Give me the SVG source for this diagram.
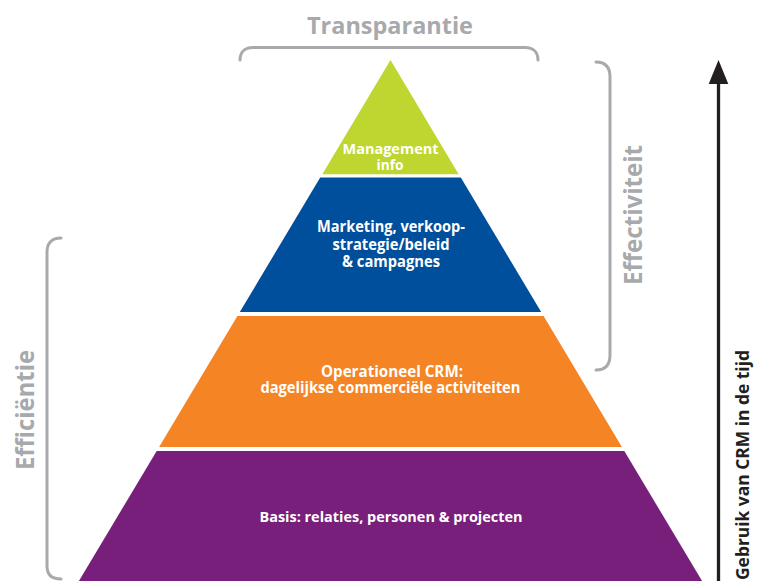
<svg xmlns="http://www.w3.org/2000/svg" width="766" height="581" viewBox="0 0 766 581">
<style>
  .gray { fill: #a7a9ac; font-family: "Open Sans", "Liberation Sans", sans-serif; font-weight: bold; }
  .white { fill: #ffffff; font-family: "Open Sans", "Liberation Sans", sans-serif; font-weight: bold; text-anchor: middle; }
  .brace { fill: none; stroke: #a7a9ac; stroke-width: 3; stroke-linecap: round; }
  .dark { font-family: "Open Sans", "Liberation Sans", sans-serif; font-weight: bold; fill: #231f20; }
</style>
<rect width="766" height="581" fill="#ffffff"/>

<g id="transparantie">
  <path class="brace" d="M240,60 C240,52 245,47.5 253,47.5 H525 C533,47.5 538,52 538,60"/>
  <text class="gray" x="390" y="33.5" font-size="24" text-anchor="middle" textLength="166" lengthAdjust="spacingAndGlyphs">Transparantie</text>
</g>

<g id="effectiviteit">
  <path class="brace" d="M596,62 C605,62 610,67 610,77 V355 C610,365 605,370 596,370"/>
  <text class="gray" x="642" y="215" font-size="25" text-anchor="middle" transform="rotate(-90 642 215)" textLength="140" lengthAdjust="spacingAndGlyphs">Effectiviteit</text>
</g>

<g id="efficientie">
  <path class="brace" d="M61,238 C52,238 47,243 47,252 V566 C47,575 52,579 61,579"/>
  <text class="gray" x="33.5" y="410" font-size="25" text-anchor="middle" transform="rotate(-90 33.5 410)" textLength="120" lengthAdjust="spacingAndGlyphs">Efficiëntie</text>
</g>

<g id="tier-management">
  <polygon points="390.5,60 458.7,174.2 322.3,174.2" fill="#bfd630"/>
  <text class="white" font-size="14.5"><tspan x="390.5" y="154" textLength="96" lengthAdjust="spacingAndGlyphs">Management</tspan><tspan x="390" y="169.5" textLength="27" lengthAdjust="spacingAndGlyphs">info</tspan></text>
</g>

<g id="tier-marketing">
  <polygon points="320.2,177.5 460.8,177.5 541.2,312 239.8,312" fill="#004f9c"/>
  <text class="white" font-size="15.5"><tspan x="391" y="231.5" textLength="148" lengthAdjust="spacingAndGlyphs">Marketing, verkoop-</tspan><tspan x="391" y="249.5" textLength="117" lengthAdjust="spacingAndGlyphs">strategie/beleid</tspan><tspan x="391" y="266.5" textLength="98" lengthAdjust="spacingAndGlyphs">&amp; campagnes</tspan></text>
</g>

<g id="tier-operationeel">
  <polygon points="237.4,316 543.6,316 621.9,447 159.1,447" fill="#f58424"/>
  <text class="white" font-size="16"><tspan x="392" y="377" textLength="142" lengthAdjust="spacingAndGlyphs">Operationeel CRM:</tspan><tspan x="390.4" y="393" textLength="260" lengthAdjust="spacingAndGlyphs">dagelijkse commerciële activiteiten</tspan></text>
</g>

<g id="tier-basis">
  <polygon points="156.7,451 624.3,451 702.1,581 78.9,581" fill="#781f7b"/>
  <text class="white" x="391" y="522" font-size="15" textLength="263" lengthAdjust="spacingAndGlyphs">Basis: relaties, personen &amp; projecten</text>
</g>

<g id="connectors">
  <line x1="718.5" y1="82" x2="718.5" y2="581" stroke="#231f20" stroke-width="3.3"/>
  <polygon points="718.5,60 728.3,84 708.7,84" fill="#231f20"/>
</g>

<g id="tijd-label">
  <text class="dark" x="749" y="465" font-size="18" text-anchor="middle" transform="rotate(-90 749 465)" textLength="230" lengthAdjust="spacingAndGlyphs">Gebruik van CRM in de tijd</text>
</g>
</svg>
